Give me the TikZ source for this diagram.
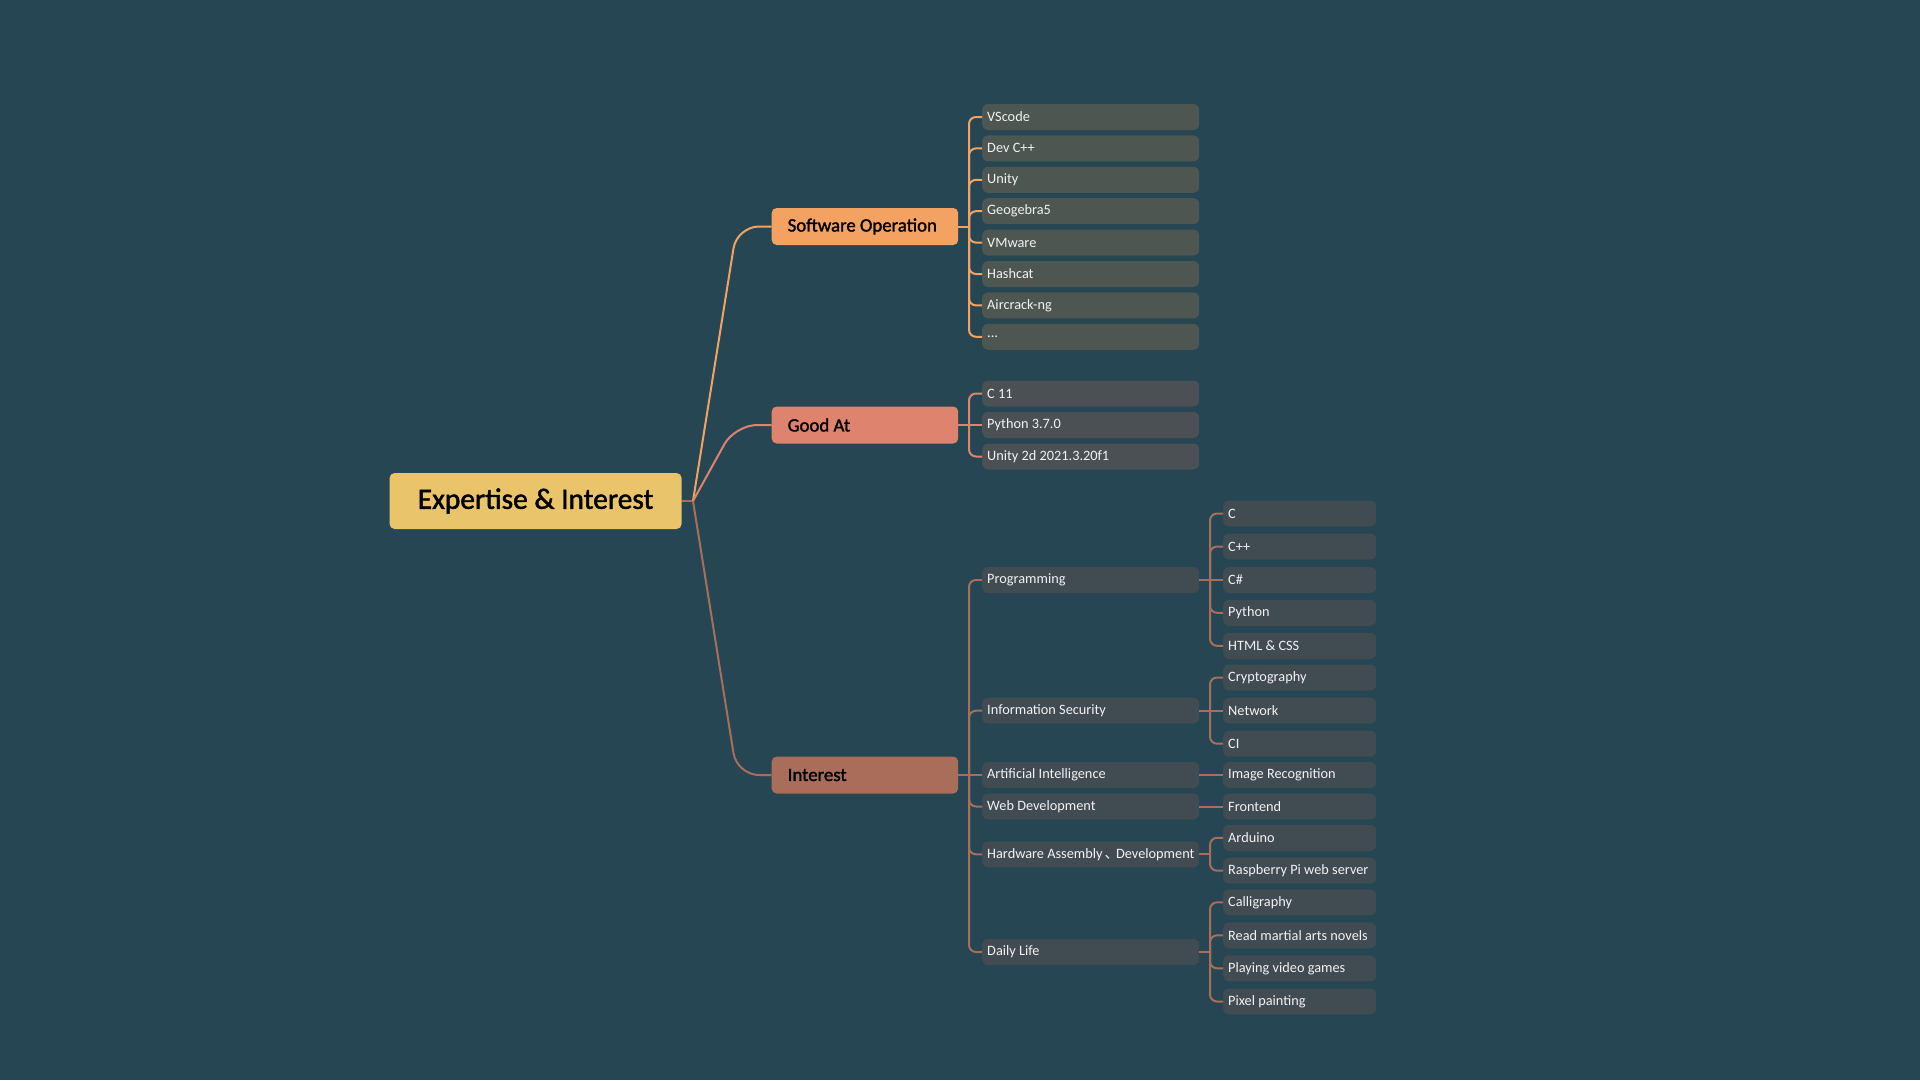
\documentclass[tikz,border=0pt]{standalone}
\usepackage{fontspec}
\setmainfont{Carlito}
\newfontfamily\semib[FakeBold=1.6]{Carlito}
\newfontfamily\cjkfont{Noto Sans CJK SC}
\definecolor{bg}{HTML}{264653}
\definecolor{rootc}{HTML}{E9C46A}
\definecolor{soc}{HTML}{F4A261}
\definecolor{gac}{HTML}{DE846E}
\definecolor{inc}{HTML}{A86E5A}
\definecolor{leafS}{HTML}{4E5652}
\definecolor{leafG}{HTML}{4A5054}
\definecolor{leafI}{HTML}{404C52}
\definecolor{leaftext}{HTML}{F2F2F2}
\newcommand\LB[1]{\makebox[207pt][l]{#1}}
\newcommand\LS[1]{\makebox[143pt][l]{#1}}
\newcommand\LM[1]{\makebox[154.5pt][l]{#1}}
\begin{document}
\begin{tikzpicture}[x=1pt,y=-1pt,
  leafbox/.style={rounded corners=6pt, minimum height=26pt, inner xsep=5pt, inner ysep=0pt, anchor=west, text=leaftext, font=\fontsize{14.3}{16}\selectfont},
  mainbox/.style={rounded corners=5pt, minimum height=37pt, inner xsep=16pt, inner ysep=0pt, anchor=west, text=black, font=\semib\fontsize{18.8}{22}\selectfont},
  rootbox/.style={rounded corners=5pt, minimum width=292pt, minimum height=56pt, inner sep=0pt, fill=rootc, text=black, font=\semib\fontsize{29.4}{34}\selectfont},
  conn/.style={line width=2pt},
  soline/.style={conn, draw=soc},
  galine/.style={conn, draw=gac},
  inline/.style={conn, draw=inc}
]
\fill[bg] (0,0) rectangle (1920,1080);
\useasboundingbox (0,0) rectangle (1920,1080);

% root and main branches
\node[rootbox] (root) at (535.6,501) {Expertise \& Interest};
\node[mainbox, fill=soc] (so) at (771.5,226.5) {\LM{Software Operation}};
\node[mainbox, fill=gac] (ga) at (771.5,425) {\LM{Good At}};
\node[mainbox, fill=inc] (in) at (771.5,775) {\LM{Interest}};

\coordinate (rj) at (693,501);
\draw[inline] (root.east) -- (rj);
\draw[soline, rounded corners=22pt] (rj) -- (737,226.5) -- (so.west);
\draw[galine, rounded corners=22pt] (rj) -- (735,425) -- (ga.west);
\draw[inline, rounded corners=22pt] (rj) -- (737,775) -- (in.west);

% Software Operation leaves
\node[leafbox, fill=leafS] (s1) at (982,117) {\LB{VScode}};
\node[leafbox, fill=leafS] (s2) at (982,148.4) {\LB{Dev C++}};
\node[leafbox, fill=leafS] (s3) at (982,179.8) {\LB{Unity}};
\node[leafbox, fill=leafS] (s4) at (982,211.2) {\LB{Geogebra5}};
\node[leafbox, fill=leafS] (s5) at (982,242.6) {\LB{VMware}};
\node[leafbox, fill=leafS] (s6) at (982,274) {\LB{Hashcat}};
\node[leafbox, fill=leafS] (s7) at (982,305.4) {\LB{Aircrack-ng}};
\node[leafbox, fill=leafS] (s8) at (982,336.8) {\LB{\raisebox{-2pt}{...}}};
\coordinate (soj) at (969,226.5);
\draw[soline] (so.east) -- (soj);
\foreach \n in {s1,s2,s3,s4,s5,s6,s7,s8}
  \draw[soline, rounded corners=7pt] (soj) |- (\n.west);

% Good At leaves
\node[leafbox, fill=leafG] (g1) at (982,393.5) {\LB{C 11}};
\node[leafbox, fill=leafG] (g2) at (982,425) {\LB{Python 3.7.0}};
\node[leafbox, fill=leafG] (g3) at (982,456.5) {\LB{Unity 2d 2021.3.20f1}};
\coordinate (gaj) at (969,425);
\draw[galine] (ga.east) -- (g2.west);
\draw[galine, rounded corners=7pt] (gaj) |- (g1.west);
\draw[galine, rounded corners=7pt] (gaj) |- (g3.west);

% Interest children
\node[leafbox, fill=leafI] (i1) at (982,580) {\LB{Programming}};
\node[leafbox, fill=leafI] (i2) at (982,710.7) {\LB{Information Security}};
\node[leafbox, fill=leafI] (i3) at (982,775) {\LB{Artificial Intelligence}};
\node[leafbox, fill=leafI] (i4) at (982,806.5) {\LB{Web Development}};
\node[leafbox, fill=leafI] (i5) at (982,854.3) {\LB{Hardware Assembly\kern2pt\makebox[11.5pt][l]{\cjkfont 、}Development}};
\node[leafbox, fill=leafI] (i6) at (982,952) {\LB{Daily Life}};
\coordinate (inj) at (969,775);
\draw[inline] (in.east) -- (i3.west);
\foreach \n in {i1,i2,i4,i5,i6}
  \draw[inline, rounded corners=7pt] (inj) |- (\n.west);

% Programming
\node[leafbox, fill=leafI] (p1) at (1223,513.5) {\LS{C}};
\node[leafbox, fill=leafI] (p2) at (1223,546.5) {\LS{C++}};
\node[leafbox, fill=leafI] (p3) at (1223,580) {\LS{C\#}};
\node[leafbox, fill=leafI] (p4) at (1223,612.8) {\LS{Python}};
\node[leafbox, fill=leafI] (p5) at (1223,645.8) {\LS{HTML \& CSS}};
\coordinate (pj) at (1210,580);
\draw[inline] (i1.east) -- (p3.west);
\foreach \n in {p1,p2,p4,p5}
  \draw[inline, rounded corners=7pt] (pj) |- (\n.west);

% Information Security
\node[leafbox, fill=leafI] (q1) at (1223,677.5) {\LS{Cryptography}};
\node[leafbox, fill=leafI] (q2) at (1223,710.7) {\LS{Network}};
\node[leafbox, fill=leafI] (q3) at (1223,743.7) {\LS{CI}};
\coordinate (qj) at (1210,710.7);
\draw[inline] (i2.east) -- (q2.west);
\foreach \n in {q1,q3}
  \draw[inline, rounded corners=7pt] (qj) |- (\n.west);

% AI, Web
\node[leafbox, fill=leafI] (a1) at (1223,775) {\LS{Image Recognition}};
\draw[inline] (i3.east) -- (a1.west);
\node[leafbox, fill=leafI] (w1) at (1223,806.5) {\LS{Frontend}};
\draw[inline] (i4.east) -- (w1.west);

% Hardware
\node[leafbox, fill=leafI] (h1) at (1223,837.8) {\LS{Arduino}};
\node[leafbox, fill=leafI] (h2) at (1223,870.7) {\LS{Raspberry Pi web server}};
\coordinate (hj) at (1210,854.3);
\draw[inline] (i5.east) -- (hj);
\foreach \n in {h1,h2}
  \draw[inline, rounded corners=7pt] (hj) |- (\n.west);

% Daily Life
\node[leafbox, fill=leafI] (d1) at (1223,902.3) {\LS{Calligraphy}};
\node[leafbox, fill=leafI] (d2) at (1223,935.3) {\LS{Read martial arts novels}};
\node[leafbox, fill=leafI] (d3) at (1223,968.3) {\LS{Playing video games}};
\node[leafbox, fill=leafI] (d4) at (1223,1001.5) {\LS{Pixel painting}};
\coordinate (dj) at (1210,952);
\draw[inline] (i6.east) -- (dj);
\foreach \n in {d1,d2,d3,d4}
  \draw[inline, rounded corners=7pt] (dj) |- (\n.west);
\end{tikzpicture}
\end{document}
